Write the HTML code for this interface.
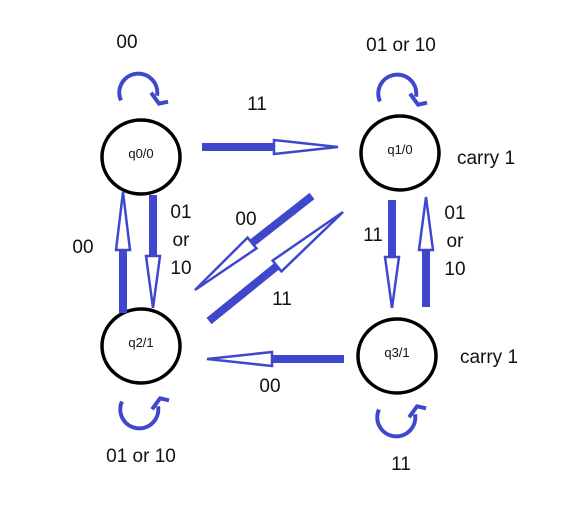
<!DOCTYPE html>
<html><head><meta charset="utf-8"><style>
html,body{margin:0;padding:0;background:#fff;}
svg{display:block;}
text{font-family:"Liberation Sans",sans-serif;fill:#111;}
</style></head><body>
<svg id="c" width="564" height="516" viewBox="0 0 564 516">
</svg>
<script>
// states: name, cx, cy
const stateNames = ["q0/0","q1/0","q2/1","q3/1"];
const stateX = [141,400,141,397];
const stateY = [157,153,346,356];
// straight transitions
const arrowStart = [[202,147],[153,195],[123,313],[312,196],[209,321],[392,200],[426,307],[344,359]];
const arrowBase  = [[274,147],[153,256],[123,250],[252,243],[277,266],[392,257],[426,250],[272,359]];
const arrowTip   = [[338,147],[153,308],[123,192],[195,290],[343,212],[392,308],[426,197],[207,359]];
const arrowNames = ["arrow-q0-q1","arrow-q0-q2","arrow-q2-q0","arrow-q1-q2","arrow-q2-q1","arrow-q1-q3","arrow-q3-q1","arrow-q3-q2"];
// self loops
const loopCenter = [[139,89],[398,90],[140,413],[397,421]];
const loopNames = ["loop-q0","loop-q1","loop-q2","loop-q3"];
const loopTop = [true,true,false,false];
// labels
const labelText = ["00","11","01 or 10","carry 1","01","or","10","00","00","11","11","01","or","10","carry 1","00","01 or 10","11"];
const labelPos = [[127,48],[257,110],[401,51],[486,164],[181,218],[181,246],[181,274],[83,253],[246,225],[282,305],[373,241],[455,219],[455,247],[455,275],[489,363],[270,392],[141,462],[401,470]];
const NS="http://www.w3.org/2000/svg";
const svg=document.getElementById('c');
const C="#3f48cc";
function mk(t,a){const e=document.createElementNS(NS,t);for(const k in a)e.setAttribute(k,a[k]);svg.appendChild(e);return e;}
for(let i=0;i<stateNames.length;i++){
  const g=mk('ellipse',{cx:stateX[i],cy:stateY[i],rx:39,ry:37,fill:'none',stroke:'#000','stroke-width':3.5});
  
  
  const t=mk('text',{x:stateX[i],y:stateY[i]+1,'text-anchor':'middle','font-size':13});
  t.textContent=stateNames[i];
  
  
}
for(let i=0;i<arrowStart.length;i++){
  const [x1,y1]=arrowStart[i],[bx,by]=arrowBase[i],[tx,ty]=arrowTip[i];
  const dx=tx-bx,dy=ty-by,L=Math.hypot(dx,dy),nx=-dy/L,ny=dx/L,h=7;
  const s=mk('line',{x1:x1,y1:y1,x2:bx,y2:by,stroke:C,'stroke-width':8});
  
  
  const p=mk('polygon',{points:`${bx+nx*h},${by+ny*h} ${tx},${ty} ${bx-nx*h},${by-ny*h}`,fill:'#fff',stroke:C,'stroke-width':2.5,'stroke-linejoin':'miter'});
  
  
}
for(let i=0;i<loopCenter.length;i++){
  const [cx,cy]=loopCenter[i],r=19;
  let d,head;
  if(loopTop[i]){
    const sx=cx-r*0.95,sy=cy+r*0.6,ex=cx+r*0.95,ey=cy+r*0.35;
    d=`M${sx},${sy} A${r},${r} 0 1 1 ${ex},${ey}`;
    head=`M${ex-6},${ey-3} L${ex+2},${ey+8} L${ex+11},${ey+6}`;
  }else{
    const sx=cx-r*0.95,sy=cy-r*0.6,ex=cx+r*0.95,ey=cy-r*0.35;
    d=`M${sx},${sy} A${r},${r} 0 1 0 ${ex},${ey}`;
    head=`M${ex-6},${ey+3} L${ex+2},${ey-8} L${ex+11},${ey-6}`;
  }
  const a=mk('path',{d:d,fill:'none',stroke:C,'stroke-width':4});
  
  
  const hh=mk('path',{d:head,fill:'none',stroke:C,'stroke-width':4});
  
  
}
for(let i=0;i<labelText.length;i++){
  const t=mk('text',{x:labelPos[i][0],y:labelPos[i][1],'text-anchor':'middle','font-size':19});
  t.textContent=labelText[i];
  
  
}
</script>
</body></html>
